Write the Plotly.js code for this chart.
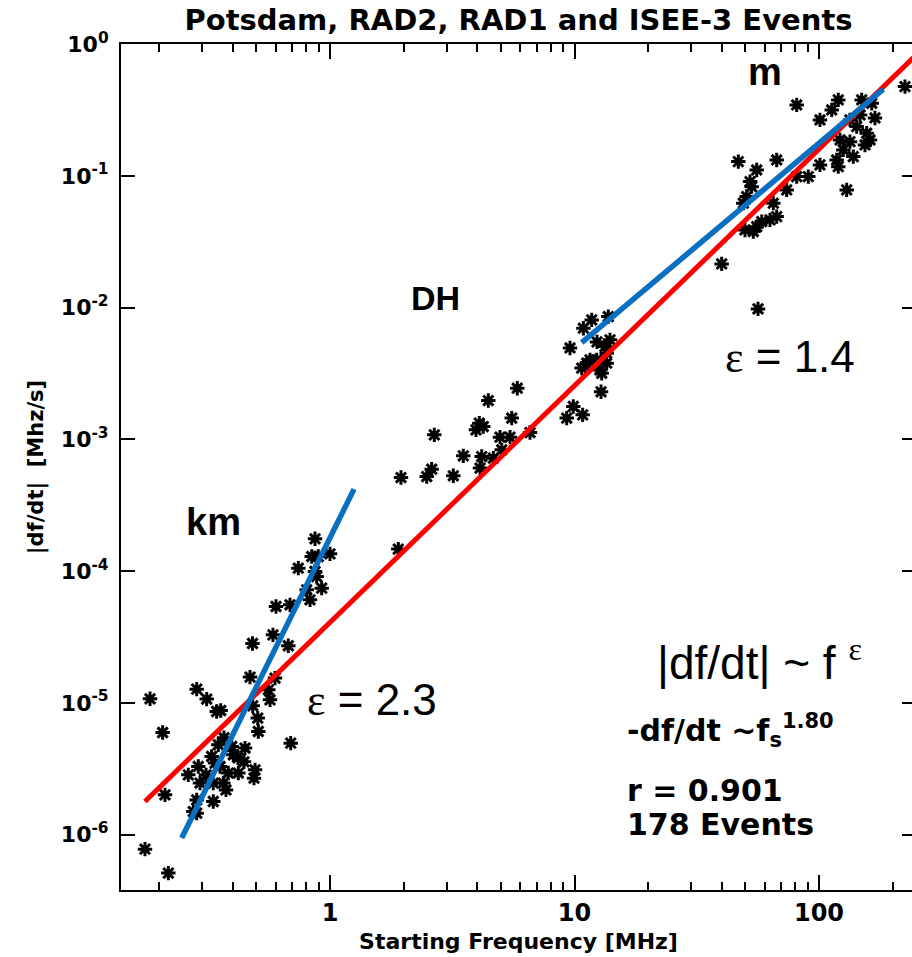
<!DOCTYPE html>
<html>
<head>
<meta charset="utf-8">
<script src="https://cdn.plot.ly/plotly-3.0.1.min.js"></script>
<style>
html,body{margin:0;padding:0;background:#fff;overflow:hidden;}
#chart{width:916px;height:957px;}
</style>
</head>
<body>
<div id="chart"></div>
<script>
// Event starting frequencies [MHz]
const freq = [
  0.1836,0.2068,0.2850,0.3131,0.3440,0.3573,0.4820,0.5845,0.6753,0.4708,
  0.5956,0.5595,0.5685,0.4830,0.5063,0.5091,0.6908,0.3493,0.3963,0.4491,
  0.4023,0.3281,0.3385,0.2893,0.2940,0.2633,0.3549,0.3837,0.4217,0.4935,
  0.4888,0.3331,0.3661,0.2114,0.2850,0.3331,0.2760,0.2850,0.1751,0.2182,
  0.3685,0.4205,0.4448,0.3111,0.3755,
  0.8684,0.8418,0.8956,1.0,0.7420,0.8684,0.8822,0.9248,0.8030,0.8283,0.6013,0.6863,
  1.902,1.951,2.486,2.606,3.194,3.509,2.671,4.173,4.107,4.441,
  4.080,4.236,5.834,5.536,4.958,5.447,6.577,4.656,5.038,9.292,
  9.888,10.80,12.84,3.955,
  9.585,10.87,11.76,13.75,11.57,10.70,12.72,13.54,13.33,13.54,12.92,11.22,12.32,12.36,13.97,
  224.7,81.04,119.9,112.7,100.9,149.5,164.3,133.9,142.6,156.7,
  161.7,121.9,133.9,125.7,118.1,119.9,138.1,100.9,129.8,46.77,
  67.14,55.62,52.22,53.05,81.04,90.42,73.77,50.61,49.02,65.03,
  67.14,63.04,58.30,55.62,49.81,53.86,39.99,56.30,147.2,169.4,154.2
];
// Event drift rates |df/dt| [MHz/s]
const drift = [
  1.076e-5,5.97e-6,1.274e-5,1.071e-5,8.62e-6,8.77e-6,2.83e-5,3.29e-5,2.72e-5,1.572e-5,
  1.545e-5,1.259e-5,1.057e-5,9.52e-6,7.68e-6,6.08e-6,4.96e-6,4.82e-6,4.68e-6,4.55e-6,
  4.05e-6,3.93e-6,3.50e-6,3.30e-6,2.47e-6,2.85e-6,3.30e-6,2.94e-6,2.94e-6,3.11e-6,
  2.69e-6,2.47e-6,2.47e-6,2.01e-6,1.84e-6,1.79e-6,1.50e-6,1.46e-6,7.78e-7,5.12e-7,
  5.45e-6,3.84e-6,3.58e-6,2.85e-6,2.19e-6,
  1.762e-4,1.294e-4,1.294e-4,1.355e-4,1.055e-4,9.95e-5,9.12e-5,7.44e-5,7.23e-5,6.07e-5,5.40e-5,5.56e-5,
  1.472e-4,5.14e-4,5.23e-4,5.95e-4,5.30e-4,7.51e-4,1.084e-3,7.42e-4,6.06e-4,1.973e-3,
  1.330e-3,1.253e-3,2.45e-3,1.452e-3,1.041e-3,1.041e-3,1.128e-3,7.21e-4,8.34e-4,1.452e-3,
  1.778e-3,1.537e-3,2.30e-3,1.183e-3,
  4.95e-3,6.99e-3,8.08e-3,8.56e-3,4.02e-3,3.48e-3,3.37e-3,3.79e-3,5.07e-3,4.52e-3,3.18e-3,3.79e-3,4.02e-3,5.50e-3,5.70e-3,
  0.476,0.3457,0.3773,0.3168,0.2660,0.3773,0.3561,0.2660,0.2366,0.2109,
  0.1875,0.1875,0.1820,0.1575,0.1322,0.1176,0.1401,0.1212,0.0783,0.1284,
  0.1322,0.1110,0.0905,0.0829,0.0988,0.0988,0.0783,0.0697,0.0621,0.0621,
  0.0491,0.0464,0.0450,0.0412,0.0389,0.0378,0.0215,9.79e-3,0.2903,0.2754,0.1718
];
// Fit lines (endpoints)
const fitAllFreq  = [0.175, 260];
const fitAllDrift = [1.79e-6, 0.889];
const fitKmFreq   = [0.2474, 1.254];
const fitKmDrift  = [9.44e-7, 4.20e-4];
const fitMFreq    = [10.70, 183.2];
const fitMDrift   = [5.43e-3, 0.4548];
// Tick labels
const xTickVals = [1, 10, 100];
const xTickText = ['1', '10', '100'];
const yTickVals = [1e-6, 1e-5, 1e-4, 1e-3, 1e-2, 1e-1, 1];
const yTickText = ['10<sup>-6</sup>','10<sup>-5</sup>','10<sup>-4</sup>','10<sup>-3</sup>','10<sup>-2</sup>','10<sup>-1</sup>','10<sup>0</sup>'];

const minorX = [];
[0.1, 1, 10, 100].forEach(d => { for (let k = 2; k <= 9; k++) minorX.push(k * d); });

// plot area in pixels
const L = 121, R = 916, T = 44, B = 890, W = 916, H = 957;
const px = x => (x - L) / (R - L);
const py = y => (B - y) / (B - T);

const bold = 'DejaVu Sans';
const reg = 'Liberation Sans';

const traces = [
  {x: freq, y: drift, type: 'scatter', mode: 'markers',
   marker: {symbol: 'asterisk-open', size: 12, color: '#000', line: {color: '#000', width: 3}},
   hoverinfo: 'x+y', showlegend: false},
  {x: fitAllFreq, y: fitAllDrift, type: 'scatter', mode: 'lines',
   line: {color: '#ff0000', width: 5}, showlegend: false},
  {x: fitKmFreq, y: fitKmDrift, type: 'scatter', mode: 'lines',
   line: {color: '#0a6fc0', width: 5.5}, showlegend: false},
  {x: fitMFreq, y: fitMDrift, type: 'scatter', mode: 'lines',
   line: {color: '#0a6fc0', width: 5.5}, showlegend: false}
];

function ann(text, x, y, size, family, weight, xanchor) {
  return {text: text, xref: 'paper', yref: 'paper', x: px(x), y: py(y),
    xanchor: xanchor || 'center', yanchor: 'middle', showarrow: false,
    font: {family: family, size: size, color: '#000', weight: weight}};
}

const eps = '<span style="font-family:Liberation Serif">ε</span>';

const layout = {
  width: W, height: H,
  margin: {l: L, r: W - R, t: T, b: H - B, pad: 0},
  paper_bgcolor: '#fff', plot_bgcolor: '#fff',
  title: {text: 'Potsdam, RAD2, RAD1 and ISEE-3 Events',
    font: {family: bold, size: 29, color: '#000', weight: 'bold'},
    x: 0.5, xref: 'paper', xanchor: 'center', y: 1 - 20 / H, yref: 'container', yanchor: 'middle'},
  xaxis: {
    type: 'log', range: [(L - 330) / 244.5, (R - 330) / 244.5],
    tickmode: 'array', tickvals: xTickVals, ticktext: xTickText,
    ticks: 'inside', ticklen: 15, tickwidth: 2, tickcolor: '#000',
    minor: {tickmode: 'array', tickvals: minorX, ticks: 'inside', ticklen: 8, tickwidth: 2, tickcolor: '#000', showgrid: false},
    showline: true, linewidth: 2, linecolor: '#000', mirror: 'ticks',
    showgrid: false, zeroline: false,
    tickfont: {family: bold, size: 24, color: '#000', weight: 'bold'},
    ticklabelstandoff: 0,
    title: {text: 'Starting Frequency [MHz]', font: {family: bold, size: 22, color: '#000', weight: 'bold'}, standoff: 8},
    automargin: false
  },
  yaxis: {
    type: 'log', range: [-6.419, 0.001],
    tickmode: 'array', tickvals: yTickVals, ticktext: yTickText,
    ticks: 'inside', ticklen: 14, tickwidth: 2, tickcolor: '#000',
    showline: true, linewidth: 2, linecolor: '#000', mirror: 'ticks',
    showgrid: false, zeroline: false,
    tickfont: {family: bold, size: 22, color: '#000', weight: 'bold'},
    ticklabelstandoff: 6,
    title: {text: '|df/dt|\u00a0\u00a0[Mhz/s]', font: {family: bold, size: 21, color: '#000', weight: 'bold'}, standoff: 12},
    automargin: false
  },
  annotations: [
    ann('m', 765, 72, 38, reg, 'bold'),
    ann('DH', 435, 298, 34, reg, 'bold'),
    ann('km', 213, 522, 38, reg, 'bold'),
    ann(eps + ' = 1.4', 790, 357, 44, reg, 'normal'),
    ann(eps + ' = 2.3', 305, 700, 44, reg, 'normal', 'left'),
    ann('|df/dt| ~ f <sup>' + eps + '</sup>', 655, 660, 46, reg, 'normal', 'left'),
    ann('-df/dt ~f<sub>s</sub><sup>1.80</sup>', 625, 730, 30, bold, 'bold', 'left'),
    ann('r = 0.901', 625, 790, 30, bold, 'bold', 'left'),
    ann('178 Events', 625, 824, 30, bold, 'bold', 'left')
  ],
  showlegend: false
};

Plotly.newPlot('chart', traces, layout, {staticPlot: true, displayModeBar: false});
</script>
</body>
</html>
